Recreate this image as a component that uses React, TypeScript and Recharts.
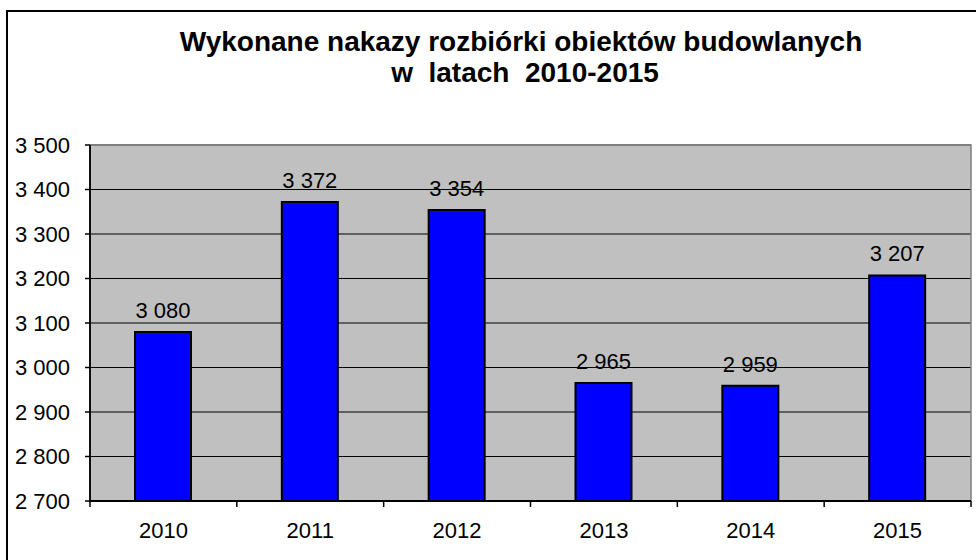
import React from 'react';
import { BarChart, Bar, XAxis, YAxis, CartesianGrid, LabelList, ReferenceLine, ReferenceArea } from 'recharts';

const years = ['2010', '2011', '2012', '2013', '2014', '2015'];
const values = [3080, 3372, 3354, 2965, 2959, 3207];
const yTicks = [2700, 2800, 2900, 3000, 3100, 3200, 3300, 3400, 3500];
const titleLines = ['Wykonane nakazy rozbiórki obiektów budowlanych', 'w  latach  2010-2015'];

const data = years.map((y, i) => ({ year: y, value: values[i] }));

const W = 976;
const H = 560;
const MARGIN = { top: 145, right: 5, left: 0, bottom: 0 };
const Y_AXIS_W = 90;
const X_AXIS_H = 59;
const BAND = (W - MARGIN.left - MARGIN.right - Y_AXIS_W) / years.length;
const FONT = '"Liberation Sans", Arial, sans-serif';

const fmt = (v: any) => String(v).replace(/\B(?=(\d{3})+(?!\d))/g, ' ');

const XTick = (props: any) => {
  const { x, y, payload, index } = props;
  const half = BAND / 2;
  return (
    <g>
      <line x1={x - half} x2={x - half} y1={y} y2={y + 6} stroke="#000" strokeWidth={1.5} />
      {index === years.length - 1 && (
        <line x1={x + half} x2={x + half} y1={y} y2={y + 6} stroke="#000" strokeWidth={1.5} />
      )}
      <text x={x} y={y + 37} textAnchor="middle" fontSize={22} fontFamily={FONT} fill="#000">
        {payload.value}
      </text>
    </g>
  );
};

export default function App() {
  return (
    <div style={{ position: 'absolute', left: 0, top: 0, width: W, height: H, overflow: 'hidden', background: '#fff' }}>
      <svg width={W} height={H} style={{ position: 'absolute', left: 0, top: 0 }}>
        <rect x={7} y={11} width={1000} height={600} fill="none" stroke="#000" strokeWidth={2} />
        <text x={521} y={51} textAnchor="middle" fontSize={28} fontWeight="bold" fontFamily={FONT} fill="#000" style={{ whiteSpace: 'pre' }}>
          {titleLines[0]}
        </text>
        <text x={525} y={82} textAnchor="middle" fontSize={28} fontWeight="bold" fontFamily={FONT} fill="#000" style={{ whiteSpace: 'pre' }}>
          {titleLines[1]}
        </text>
      </svg>
      <div style={{ position: 'absolute', left: 0, top: 0 }}>
        <BarChart width={W} height={H} data={data} margin={MARGIN}>
          <CartesianGrid vertical={false} stroke="#000" strokeWidth={1.2} fill="#C0C0C0" fillOpacity={1} />
          <ReferenceArea y1={2700} y2={3500} fill="none" stroke="#808080" strokeWidth={1.5} ifOverflow="visible" />
          <ReferenceLine y={3500} stroke="#808080" strokeWidth={2} />
          <XAxis
            dataKey="year"
            height={X_AXIS_H}
            axisLine={{ stroke: '#000', strokeWidth: 1.8 }}
            tickLine={false}
            tickSize={0}
            tickMargin={0}
            tick={<XTick />}
            interval={0}
          />
          <YAxis
            width={Y_AXIS_W}
            domain={[2700, 3500]}
            ticks={yTicks}
            interval={0}
            axisLine={{ stroke: '#000', strokeWidth: 1.8 }}
            tickLine={{ stroke: '#000', strokeWidth: 1.5 }}
            tickSize={5}
            tickMargin={15}
            tickFormatter={fmt}
            tick={{ fontSize: 22, fill: '#000', fontFamily: FONT }}
          />
          <Bar dataKey="value" fill="#0000FF" stroke="#000" strokeWidth={2} barSize={56} isAnimationActive={false}>
            <LabelList dataKey="value" position="top" offset={14} formatter={fmt} fill="#000" fontSize={22} fontFamily={FONT} />
          </Bar>
        </BarChart>
      </div>
    </div>
  );
}
